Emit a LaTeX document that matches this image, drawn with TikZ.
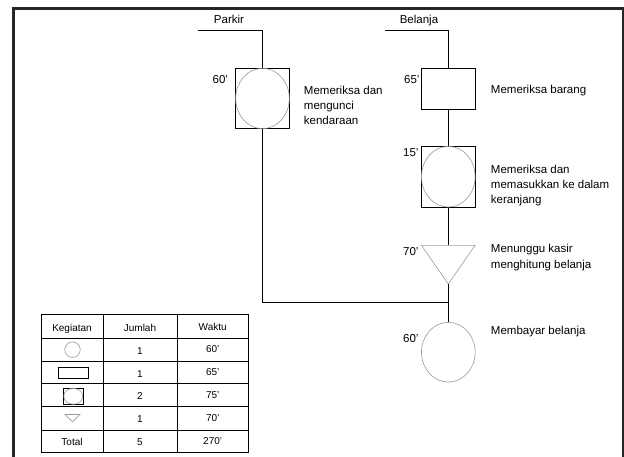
\documentclass[tikz,border=0pt]{standalone}
\usepackage{fontspec}
\setmainfont{Liberation Sans}
\usetikzlibrary{shapes.geometric}

\begin{document}
\begin{tikzpicture}[x=1pt,y=-1pt,line width=.9pt,
	lbl/.style={font=\fontsize{11.5}{15.2}\selectfont,inner sep=0pt},
	ket/.style={lbl,align=left,anchor=north west},
	waktu/.style={lbl,anchor=base east},
	kotak/.style={draw,rectangle,minimum width=53.7pt,inner sep=0pt},
	bulat/.style={draw=black!40,line width=.6pt,ellipse,minimum width=53.7pt,inner sep=0pt},
	sel/.style={font=\fontsize{10}{11}\selectfont,inner sep=0pt,anchor=base}]
		\useasboundingbox (0,0) rectangle (624,456);
		\draw[line width=2.2pt,black!85] (13.5,470) -- (13.5,8.5) -- (623,8.5) -- (623,470);
		
		% parkir
		\coordinate (parkir) at (198,30);
		\node[lbl,anchor=base] (parkirlbl) at (229,23.5) {Parkir};
		\node[kotak,minimum height=60.4pt] (kunci) at (262.5,98.5) {};
		\node[bulat,minimum height=60.4pt] (kuncic) at (kunci) {};
		\node[waktu] (tkunci) at (228.5,83.5) {60'};
		\node[ket] (kkunci) at (303.5,85.5) {Memeriksa dan\\mengunci\\kendaraan};
		\draw (parkir) -| (kunci.north);
		
		% belanja
		\coordinate (belanja) at (385,30);
		\node[lbl,anchor=base] (belanjalbl) at (419,23.5) {Belanja};
		\node[kotak,minimum height=41pt] (barang) at (448.3,88.8) {};
		\node[waktu] (tbarang) at (420,83.3) {65'};
		\node[ket] (kbarang) at (490.5,84.8) {Memeriksa barang};
		\draw (belanja) -| (barang.north);
		
		\node[kotak,minimum height=60.7pt] (masuk) at (448.3,176.7) {};
		\node[bulat,minimum height=60.7pt] (masukc) at (masuk) {};
		\node[waktu] (tmasuk) at (419,156.5) {15'};
		\node[ket] (kmasuk) at (490.5,164.8) {Memeriksa dan\\memasukkan ke dalam\\keranjang};
		\draw (barang.south) -- (masuk.north);
		
		\coordinate (tunggu) at (448.3,245.3);
		\coordinate (tunggub) at (448.3,284);
		\draw[draw=black!40,line width=.6pt] (421.4,245.3) -- (475.1,245.3) -- (tunggub) -- cycle;
		\node[waktu] (ttunggu) at (419,255) {70'};
		\node[ket] (ktunggu) at (490.5,244.2) {Menunggu kasir\\menghitung belanja};
		\draw (masuk.south) -- (tunggu);
		
		\coordinate (gabung) at (448.3,302.7);
		\node[bulat,minimum height=59.7pt] (bayar) at (448.3,352.2) {};
		\node[waktu] (tbayar) at (419,342) {60'};
		\node[ket] (kbayar) at (490.5,325.8) {Membayar belanja};
		\draw (kunci.south) |- (gabung);
		\draw (tunggub) -- (gabung) -- (bayar.north);
		
		% tabel
		\draw (41,314.5) rectangle (248.5,452.5);
		\draw (41,338) -- (248.5,338);
		\draw (41,361.5) -- (248.5,361.5);
		\draw (41,383.5) -- (248.5,383.5);
		\draw (41,406.5) -- (248.5,406.5);
		\draw (41,430) -- (248.5,430);
		\draw (103,314.5) -- (103,452.5);
		\draw (177,314.5) -- (177,452.5);
		
		\node[sel] (h1) at (72,331.5) {Kegiatan};
		\node[sel] (h2) at (140,331.5) {Jumlah};
		\node[sel] (h3) at (212.7,330) {Waktu};
		
		\node[draw=black!40,line width=.6pt,circle,minimum size=15.5pt,inner sep=0pt] (ik1) at (72.5,349.7) {};
		\node[sel] (j1) at (140,354) {1};
		\node[sel] (w1) at (212.7,352.5) {60'};
		
		\node[draw,minimum width=30pt,minimum height=11pt,inner sep=0pt] (ik2) at (73,373) {};
		\node[sel] (j2) at (140,377) {1};
		\node[sel] (w2) at (212.7,375.5) {65'};
		
		\node[draw,minimum width=20pt,minimum height=16pt,inner sep=0pt] (ik3) at (73.3,396.3) {};
		\node[draw=black!40,line width=.6pt,ellipse,minimum width=19pt,minimum height=16pt,inner sep=0pt] (ik3c) at (ik3) {};
		\node[sel] (j3) at (140,399.5) {2};
		\node[sel] (w3) at (212.7,398) {75'};
		
		\coordinate (ik4) at (72.5,421.8);
		\draw[draw=black!40,line width=.6pt] (65,414.5) -- (80,414.5) -- (ik4) -- cycle;
		\node[sel] (j4) at (140,422.5) {1};
		\node[sel] (w4) at (212.7,421) {70'};
		
		\node[sel] (tot) at (72,445.5) {Total};
		\node[sel] (j5) at (140,445.5) {5};
		\node[sel] (w5) at (212.7,444) {270'};
\end{tikzpicture}
\end{document}
